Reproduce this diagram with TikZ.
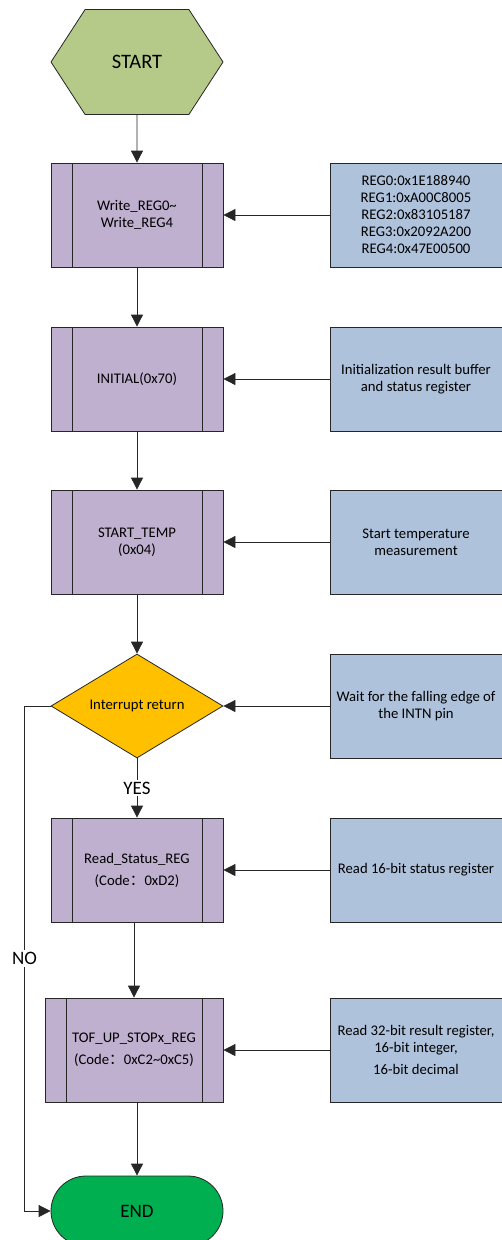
\documentclass[tikz,border=0pt]{standalone}
\usepackage{fontspec}
\setmainfont{Carlito}
\newfontfamily\cjk{Noto Sans CJK SC}
\usetikzlibrary{shapes.geometric,shapes.symbols,shapes.misc,arrows.meta}
\definecolor{hexgreen}{HTML}{B5CA88}
\definecolor{subpurple}{HTML}{BFB0D0}
\definecolor{notebl}{HTML}{AFC2DC}
\definecolor{irqyellow}{HTML}{FFC000}
\definecolor{endgreen}{HTML}{00B050}
\begin{document}
\begin{tikzpicture}[x=1pt,y=-1pt,line width=0.8pt,draw=black!85]
    \tikzstyle{every node}=[font={\fontsize{14.7}{17}\selectfont},align=center,inner sep=0pt]
    \tikzstyle{big}=[font={\fontsize{19}{21}\selectfont}]
    \tikzstyle{flow}=[-{Triangle[length=12pt,width=12pt]}]
    \tikzstyle{sub}=[draw,fill=subpurple,minimum width=172pt,minimum height=104pt,
        path picture={\draw ([xshift=21pt]path picture bounding box.north west) -- ([xshift=21pt]path picture bounding box.south west)
            ([xshift=-21pt]path picture bounding box.north east) -- ([xshift=-21pt]path picture bounding box.south east);}]
    \tikzstyle{note}=[draw,fill=notebl,minimum width=172pt,minimum height=104pt]
    \useasboundingbox (0,0) rectangle (501,1240);

    \node[signal,signal to=west and east,signal pointer angle=114,draw,fill=hexgreen,
        minimum width=172pt,minimum height=105pt,big,font={\fontsize{20.5}{22}\selectfont}] (start) at (137,62) {START};
    \node[sub] (wreg) at (137,215) {Write\_REG0\textasciitilde\\Write\_REG4};
    \node[sub] (init) at (137,379) {INITIAL(0x70)};
    \node[sub] (temp) at (137,542) {START\_TEMP\\(0x04)};
    \node[diamond,aspect=1.65,draw,fill=irqyellow,minimum width=172pt,minimum height=104pt] (irq) at (137,706) {Interrupt return};
    \node[sub] (status) at (137,870) {Read\_Status\_REG\\[5pt](Code{\cjk ：}0xD2)};
    \node[sub,minimum width=178pt] (tof) at (134,1050) {TOF\_UP\_STOPx\_REG\\[5pt](Code{\cjk ：}0xC2\textasciitilde0xC5)};
    \node[rounded rectangle,draw,fill=endgreen,minimum width=172pt,minimum height=70pt,big] (endn) at (137,1211) {END};

    % register notes
    \node[note] (regs) at (416,215) {REG0:0x1E188940\\REG1:0xA00C8005\\REG2:0x83105187\\REG3:0x2092A200\\REG4:0x47E00500};
    \node[note] (buf) at (416,379) {Initialization result buffer\\and status register};
    \node[note] (meas) at (416,542) {Start temperature\\measurement};
    \node[note] (intn) at (416,706) {Wait for the falling edge of\\the INTN pin};
    \node[note] (rd16) at (416,870) {Read 16-bit status register};
    \node[note] (rd32) at (416,1050) {Read 32-bit result register,\\16-bit integer,\\[5pt]16-bit decimal};

    \draw[flow] (start) -- (wreg);
    \draw[flow] (wreg) -- (init);
    \draw[flow] (init) -- (temp);
    \draw[flow] (temp) -- (irq);
    \draw[flow] (irq) -- node[fill=white,inner sep=2pt,big] {YES} (status);
    \draw[flow] (status.south -| tof.north) -- (tof.north);
    \draw[flow] (tof.south -| endn.north) -- (endn.north);
    \draw[flow] (irq.west) -- ++(-26,0) |- node[pos=0.25,fill=white,inner sep=2pt,big] {NO} (endn.west);

    \foreach \a/\b in {regs/wreg,buf/init,meas/temp,intn/irq,rd16/status,rd32/tof}
        \draw[flow] (\a.west) -- (\b.east);
\end{tikzpicture}
\end{document}
